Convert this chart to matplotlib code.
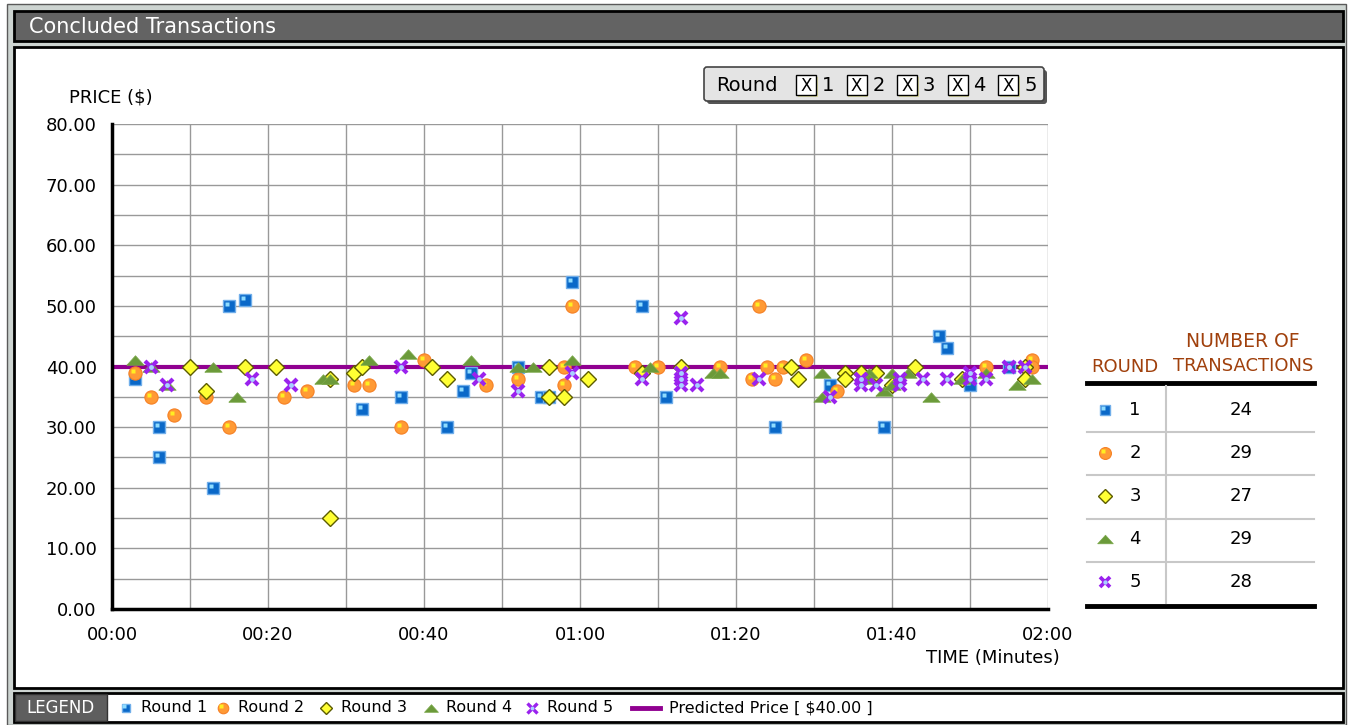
import matplotlib
matplotlib.use('Agg')
import matplotlib.pyplot as plt
from matplotlib import font_manager
from matplotlib.patches import Rectangle, FancyBboxPatch
from matplotlib.transforms import offset_copy

# font: condensed look if available
names = {f.name for f in font_manager.fontManager.ttflist}
main_font = 'Liberation Sans Narrow' if 'Liberation Sans Narrow' in names else 'DejaVu Sans'
plt.rcParams['font.family'] = [main_font, 'DejaVu Sans']

# data: time in seconds, price in $
r1_t = [3, 6, 6, 13, 15, 17, 32, 37, 43, 45, 46, 52, 55, 56, 59, 68, 71, 85, 92, 99, 106, 107, 110, 115]
r1_p = [38, 30, 25, 20, 50, 51, 33, 35, 30, 36, 39, 40, 35, 35, 54, 50, 35, 30, 37, 30, 45, 43, 37, 40]

r2_t = [3, 5, 8, 12, 15, 22, 25, 31, 33, 37, 40, 48, 52, 58, 58, 59, 67, 70, 78, 82, 83, 84, 85, 86, 89, 93, 112, 118, 118]
r2_p = [39, 35, 32, 35, 30, 35, 36, 37, 37, 30, 41, 37, 38, 40, 37, 50, 40, 40, 40, 38, 50, 40, 38, 40, 41, 36, 40, 41, 40]

r3_t = [10, 12, 17, 21, 28, 28, 31, 32, 41, 43, 56, 56, 58, 61, 68, 73, 87, 88, 94, 94, 96, 98, 100, 103, 109, 117, 117]
r3_p = [40, 36, 40, 40, 15, 38, 39, 40, 40, 38, 40, 35, 35, 38, 39, 40, 40, 38, 39, 38, 39, 39, 37, 40, 38, 40, 38]

r4_t = [3, 5, 7, 13, 16, 27, 28, 33, 38, 46, 52, 54, 59, 69, 77, 78, 91, 91, 97, 97, 99, 100, 100, 102, 105, 109, 112, 116, 118]
r4_p = [41, 40, 37, 40, 35, 38, 38, 41, 42, 41, 40, 40, 41, 40, 39, 39, 39, 35, 39, 38, 36, 39, 37, 39, 35, 38, 39, 37, 38]

r5_t = [5, 7, 18, 23, 37, 47, 52, 59, 68, 73, 73, 73, 73, 75, 83, 92, 96, 96, 98, 101, 101, 104, 107, 110, 110, 112, 115, 117]
r5_p = [40, 37, 38, 37, 40, 38, 36, 39, 38, 48, 39, 38, 37, 37, 38, 35, 38, 37, 37, 38, 37, 38, 38, 39, 38, 38, 40, 40]

rounds = [1, 2, 3, 4, 5]
counts = [24, 29, 27, 29, 28]
predicted_price = 40.0
x_ticks = [0, 20, 40, 60, 80, 100, 120]
y_ticks = [0, 10, 20, 30, 40, 50, 60, 70, 80]

W, H = 1350, 725
fig = plt.figure(figsize=(W / 100, H / 100), dpi=100)
fig.patch.set_facecolor('white')

# background canvas in pixel coords
bg = fig.add_axes([0, 0, 1, 1])
bg.set_xlim(0, W)
bg.set_ylim(H, 0)
bg.axis('off')

bg.add_patch(Rectangle((7, 4), 1339, 721, facecolor='#cdd4d1', edgecolor='#5a5a5a', lw=1))
bg.add_patch(Rectangle((14, 11), 1329, 30, facecolor='#636363', edgecolor='black', lw=2))
bg.text(29, 27, 'Concluded Transactions', color='white', fontsize=15, va='center', ha='left')
bg.add_patch(Rectangle((14, 47), 1329, 641, facecolor='white', edgecolor='black', lw=2))
bg.add_patch(Rectangle((14, 693), 1329, 29, facecolor='white', edgecolor='black', lw=2))
bg.add_patch(Rectangle((15, 694), 92, 27, facecolor='#5e5e5e', edgecolor='#333333', lw=1))
bg.text(61, 708, 'LEGEND', color='white', fontsize=12, va='center', ha='center')


def draw_round(ax, k, xs, ys, scale=1.0, z=3):
    tr = ax.transData
    if k == 1:
        ax.plot(xs, ys, ls='none', marker='s', ms=8 * scale, mfc='#0a68c8', mec='#70aeea', mew=1, zorder=z)
        hl = offset_copy(tr, fig=fig, x=-2 * scale, y=2 * scale, units='dots')
        ax.plot(xs, ys, ls='none', marker='s', ms=3 * scale, mfc='#8fdcff', mec='none', transform=hl, zorder=z)
    elif k == 2:
        ax.plot(xs, ys, ls='none', marker='o', ms=9.5 * scale, mfc='#ff9a35', mec='#f58025', mew=0.8, zorder=z)
        hl = offset_copy(tr, fig=fig, x=-2 * scale, y=2 * scale, units='dots')
        ax.plot(xs, ys, ls='none', marker='s', ms=3 * scale, mfc='#ffee22', mec='none', transform=hl, zorder=z)
    elif k == 3:
        ax.plot(xs, ys, ls='none', marker='D', ms=8 * scale, mfc='#ffff33', mec='#5c5c00', mew=1, zorder=z)
    elif k == 4:
        tri = [(-1, -0.55), (1, -0.55), (0, 0.55), (-1, -0.55)]
        ax.plot(xs, ys, ls='none', marker=tri, ms=12.5 * scale, mfc='#6b9a3a', mec='#7aa84a', mew=0.5, zorder=z)
    else:
        ax.plot(xs, ys, ls='none', marker='x', ms=8.5 * scale, mec='#9a22ee', mew=3 * scale, zorder=z)
        ax.plot(xs, ys, ls='none', marker='o', ms=3.5 * scale, mfc='#a8d0ff', mec='none', zorder=z)


# main chart
L, R, T, B = 112, 1048, 124, 609
ax = fig.add_axes([L / W, 1 - B / H, (R - L) / W, (B - T) / H])
ax.set_xlim(0, 120)
ax.set_ylim(0, 80)
ax.set_facecolor('white')
for t in range(0, 121, 10):
    ax.axvline(t, color='#999999', lw=1, zorder=1)
for p in range(0, 81, 5):
    ax.axhline(p, color='#999999', lw=1, zorder=1)
for s in ['top', 'right']:
    ax.spines[s].set_visible(False)
for s in ['left', 'bottom']:
    ax.spines[s].set_linewidth(2.5)
    ax.spines[s].set_color('black')
ax.set_xticks(x_ticks)
ax.set_xticklabels(['%02d:%02d' % (t // 60, t % 60) for t in x_ticks])
ax.set_yticks(y_ticks)
ax.set_yticklabels(['%.2f' % v for v in y_ticks])
ax.tick_params(length=0, labelsize=13, pad=11)
ax.tick_params(axis='x', pad=12)

ax.axhline(predicted_price, color='#900090', lw=3, zorder=2)
all_t = [r1_t, r2_t, r3_t, r4_t, r5_t]
all_p = [r1_p, r2_p, r3_p, r4_p, r5_p]
for k, ts, ps_ in zip(rounds, all_t, all_p):
    draw_round(ax, k, ts, ps_, z=3 + k)
ax.set_clip_on(False)

bg.text(111, 97, 'PRICE ($)', fontsize=13, ha='center', va='center')
bg.text(1060, 658, 'TIME (Minutes)', fontsize=13, ha='right', va='center')

# round selector box
bg.add_patch(FancyBboxPatch((707, 70), 340, 34, boxstyle='round,pad=0,rounding_size=3',
                            facecolor='#555555', edgecolor='none'))
bg.add_patch(FancyBboxPatch((704, 67), 340, 34, boxstyle='round,pad=0,rounding_size=3',
                            facecolor='#e4e4e4', edgecolor='#444444', lw=1.2))
bg.text(716, 85, 'Round', fontsize=14, ha='left', va='center')
for i, k in enumerate(rounds):
    bx = 796 + i * 50.5
    bg.add_patch(Rectangle((bx + 1.5, 76.5), 20, 20, facecolor='#d8d8a0', edgecolor='none'))
    bg.add_patch(Rectangle((bx, 75), 20, 20, facecolor='white', edgecolor='black', lw=1))
    bg.text(bx + 10, 85.5, 'X', fontsize=12, ha='center', va='center')
    bg.text(bx + 26, 85, str(k), fontsize=14, ha='left', va='center')

# transactions table
hdr = '#a0400c'
bg.text(1125, 367, 'ROUND', color=hdr, fontsize=13, ha='center', va='center')
bg.text(1243, 341, 'NUMBER OF', color=hdr, fontsize=13.5, ha='center', va='center')
bg.text(1243, 366, 'TRANSACTIONS', color=hdr, fontsize=13, ha='center', va='center')
bg.plot([1087, 1314], [383, 383], color='black', lw=3.5)
bg.plot([1087, 1314], [606, 606], color='black', lw=3.5)
bg.plot([1166, 1166], [386, 603], color='#c8c8c8', lw=1.5)
row_y = [410, 453, 496, 539, 582]
for yy in [432, 475, 519, 562]:
    bg.plot([1087, 1314], [yy, yy], color='#c8c8c8', lw=1.5)
for k, n, yy in zip(rounds, counts, row_y):
    draw_round(bg, k, [1105], [yy], scale=0.9)
    bg.text(1135, yy, str(k), fontsize=13, ha='center', va='center')
    bg.text(1241, yy, str(n), fontsize=13, ha='center', va='center')

# bottom legend strip
leg_x = [126, 223, 326, 431, 532]
for k, lx in zip(rounds, leg_x):
    draw_round(bg, k, [lx], [708], scale=0.8)
    bg.text(lx + 15, 708, 'Round %d' % k, fontsize=11.5, ha='left', va='center')
bg.plot([632, 660], [708, 708], color='#900090', lw=3.5)
bg.text(669, 708, 'Predicted Price [ $%.2f ]' % predicted_price, fontsize=11.5, ha='left', va='center')

fig.savefig('out.png', dpi=100)
